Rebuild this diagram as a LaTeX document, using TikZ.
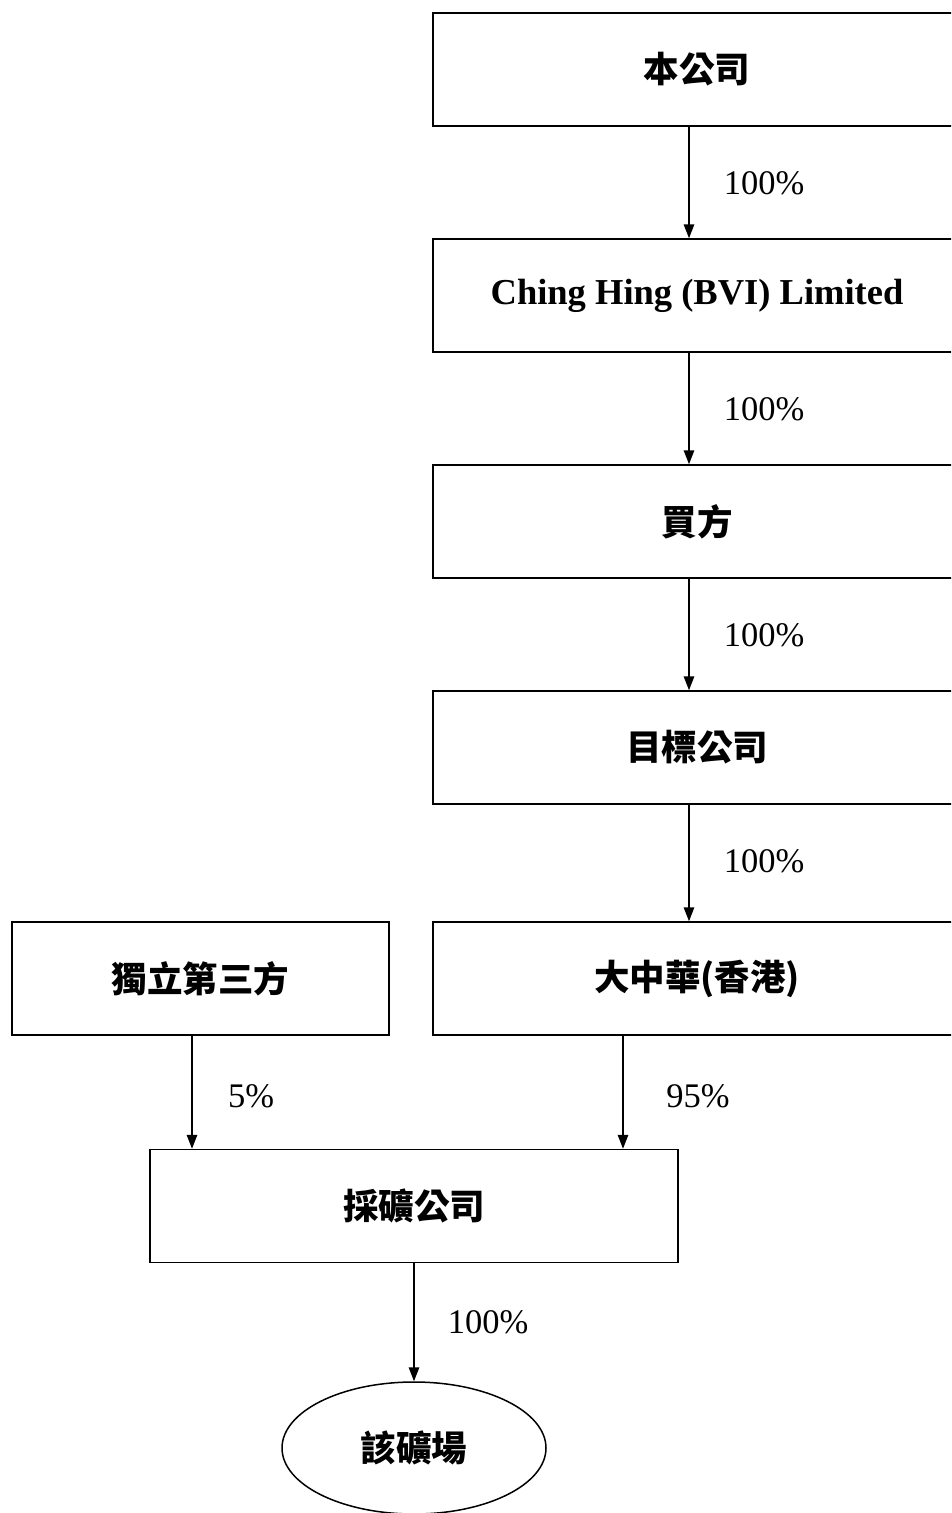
\documentclass[tikz,border=0pt]{standalone}
\usepackage{fontspec}
\setmainfont{Liberation Serif}
\newfontfamily\cjk{Noto Sans CJK TC}
\usetikzlibrary{arrows.meta,shapes.geometric}
\begin{document}
\begin{tikzpicture}[x=1pt,y=-1pt,
  box/.style={draw=black,line width=1.5pt,rectangle,minimum height=113pt,inner sep=0pt},
  bigbox/.style={box,minimum width=528pt},
  oval/.style={draw=black,line width=1.5pt,ellipse,minimum width=264pt,minimum height=132pt,inner sep=0pt},
  ctext/.style={font=\cjk\bfseries\fontsize{35.5}{40}\selectfont},
  ltext/.style={font=\bfseries\fontsize{36.5}{40}\selectfont},
  pct/.style={font=\fontsize{34.5}{40}\selectfont,inner sep=0pt},
  arr/.style={draw=black,line width=1.5pt,-{Triangle[length=14pt,width=10.5pt]}}]
\clip (0,0) rectangle (951,1513);
\fill[white] (0,0) rectangle (951,1513);
\node[bigbox,ctext] (b1) at (697,69.5) {本公司};
\node[bigbox,ltext] (b2) at (697,295.5) {Ching Hing (BVI) Limited};
\node[bigbox,ctext] (b3) at (697,521.5) {買方};
\node[bigbox,ctext] (b4) at (697,747.5) {目標公司};
\node[bigbox,ctext] (b5) at (697,978.5) {大中華(香港)};
\node[box,minimum width=377pt,ctext] (third) at (200.5,978.5) {獨立第三方};
\node[bigbox,ctext] (mine) at (414,1206) {採礦公司};
\node[oval,ctext] (site) at (414,1448) {該礦場};
\coordinate (ax) at (689,0);
\coordinate (lx) at (192,0);
\coordinate (rx) at (623,0);
\draw[arr] (b1.south -| ax) -- (b2.north -| ax);
\draw[arr] (b2.south -| ax) -- (b3.north -| ax);
\draw[arr] (b3.south -| ax) -- (b4.north -| ax);
\draw[arr] (b4.south -| ax) -- (b5.north -| ax);
\draw[arr] (third.south -| lx) -- (mine.north -| lx);
\draw[arr] (b5.south -| rx) -- (mine.north -| rx);
\draw[arr] (mine.south) -- (site.north);
\node[pct] (p1) at (764,183) {100\%};
\node[pct] (p2) at (764,409) {100\%};
\node[pct] (p3) at (764,635) {100\%};
\node[pct] (p4) at (764,861) {100\%};
\node[pct] (p5) at (251,1096) {5\%};
\node[pct] (p6) at (698,1096) {95\%};
\node[pct] (p7) at (488,1322) {100\%};
\end{tikzpicture}
\end{document}
